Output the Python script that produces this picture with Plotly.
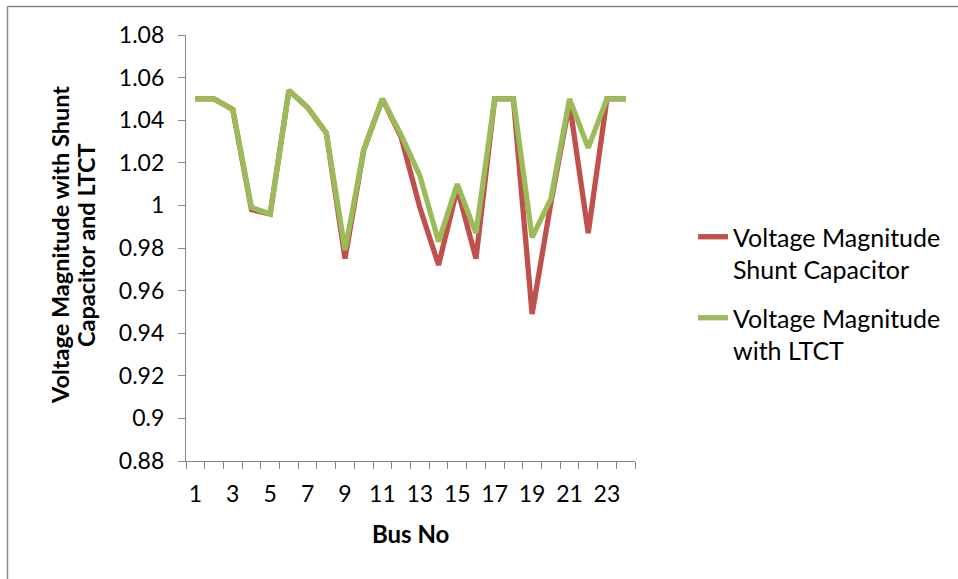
import plotly.graph_objects as go

# Bus numbers and per-unit voltage magnitudes for the two compensation cases
bus_no = list(range(1, 25))
v_shunt_cap = [1.05, 1.05, 1.045, 0.998, 0.996, 1.054, 1.046, 1.034, 0.975, 1.026,
               1.05, 1.032, 0.999, 0.972, 1.008, 0.975, 1.05, 1.05, 0.949, 1.001,
               1.048, 0.987, 1.05, 1.05]
v_ltct = [1.05, 1.05, 1.045, 0.999, 0.996, 1.054, 1.046, 1.034, 0.979, 1.026,
          1.05, 1.033, 1.014, 0.983, 1.01, 0.987, 1.05, 1.05, 0.985, 1.003,
          1.05, 1.027, 1.05, 1.05]

x_tick_vals = list(range(1, 25, 2))
x_tick_text = [str(v) for v in x_tick_vals]
y_tick_vals = [0.88, 0.90, 0.92, 0.94, 0.96, 0.98, 1.00, 1.02, 1.04, 1.06, 1.08]
y_tick_text = ["0.88", "0.9", "0.92", "0.94", "0.96", "0.98", "1", "1.02", "1.04", "1.06", "1.08"]
y_title_lines = ["Voltage Magnitude with Shunt", "Capacitor and LTCT"]

FONT = "Lato"
AXIS_GRAY = "#868686"

# plot-area geometry in pixels, used to place the free-standing titles
L, R, T, B = 186, 635, 35, 461
W, H = R - L, B - T


def px_x(p):
    return (p - L) / W


def px_y(p):
    return (B - p) / H


fig = go.Figure()
fig.add_trace(go.Scatter(
    x=bus_no, y=v_shunt_cap, mode="lines",
    name="Voltage Magnitude<br>Shunt Capacitor", legendgroup="shunt",
    line=dict(color="#C0504D", width=5.3),
))
fig.add_trace(go.Scatter(
    x=bus_no, y=v_ltct, mode="lines",
    name="Voltage Magnitude<br>with LTCT", legendgroup="ltct",
    line=dict(color="#9BBB59", width=5.3),
))

annotations = [
    dict(text="<b>Bus No</b>", xref="paper", yref="paper",
         x=0.5, y=px_y(533), xanchor="center", yanchor="middle",
         showarrow=False, font=dict(family=FONT, size=24)),
]
for line_text, cx in zip(y_title_lines, [60, 86]):
    annotations.append(dict(
        text=f"<b>{line_text}</b>", xref="paper", yref="paper",
        x=px_x(cx), y=px_y(245), xanchor="center", yanchor="middle",
        textangle=-90, showarrow=False, font=dict(family=FONT, size=23.5)))

fig.update_layout(
    width=958, height=579,
    margin=dict(l=L, r=958 - R, t=T, b=579 - B),
    paper_bgcolor="white", plot_bgcolor="white",
    font=dict(family=FONT, size=23, color="#000000"),
    showlegend=True,
    legend=dict(
        x=px_x(693), y=px_y(214), xanchor="left", yanchor="top",
        font=dict(family=FONT, size=25, color="#000000"),
        valign="top", tracegroupgap=13, bgcolor="rgba(0,0,0,0)",
    ),
    xaxis=dict(
        range=[0.5, 24.5], tickmode="array",
        tickvals=x_tick_vals, ticktext=x_tick_text,
        ticks="", showgrid=False, zeroline=False,
        showline=True, linecolor=AXIS_GRAY, linewidth=1.3,
        tickfont=dict(family=FONT, size=23),
        minor=dict(tick0=0.5, dtick=1, ticks="outside", ticklen=7,
                   tickcolor=AXIS_GRAY, tickwidth=1.3, showgrid=False),
        ticklabelstandoff=12,
    ),
    yaxis=dict(
        range=[0.88, 1.08], tickmode="array",
        tickvals=y_tick_vals, ticktext=y_tick_text,
        ticks="outside", ticklen=7, tickcolor=AXIS_GRAY, tickwidth=1.3,
        showgrid=False, zeroline=False,
        showline=True, linecolor=AXIS_GRAY, linewidth=1.3,
        tickfont=dict(family=FONT, size=23),
        ticklabelstandoff=9,
    ),
    annotations=annotations,
    shapes=[
        # outer chart frame (left and top edges)
        dict(type="line", xref="paper", yref="paper",
             x0=px_x(7.5), x1=px_x(7.5), y0=px_y(6.5), y1=px_y(600),
             line=dict(color="#888888", width=1.5)),
        dict(type="line", xref="paper", yref="paper",
             x0=px_x(7.5), x1=px_x(980), y0=px_y(6.5), y1=px_y(6.5),
             line=dict(color="#888888", width=1.5)),
    ],
)

fig.write_html("out.html")
